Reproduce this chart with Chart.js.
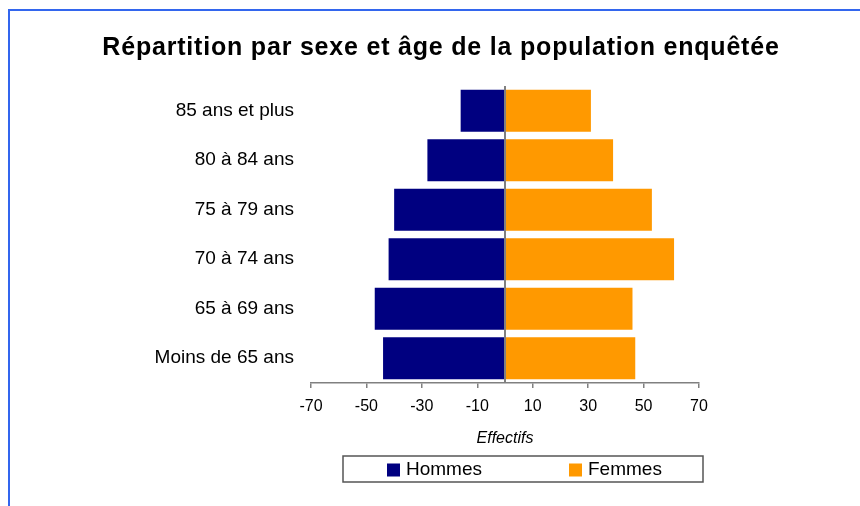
<!DOCTYPE html>
<html><head><meta charset="utf-8">
<script src="https://cdn.jsdelivr.net/npm/chart.js@4/dist/chart.umd.min.js"></script>
<style>html,body{margin:0;padding:0;background:#fff}#wrap{width:860px;height:506px;position:relative}</style>
</head><body><div id="wrap"><canvas id="c" width="860" height="506"></canvas></div>
<script>
const titleText = 'Répartition par sexe et âge de la population enquêtée';
const categories = ['85 ans et plus','80 à 84 ans','75 à 79 ans','70 à 74 ans','65 à 69 ans','Moins de 65 ans'];
const hommes = [-16, -28, -40, -42, -47, -44];
const femmes = [31, 39, 53, 61, 46, 47];
const xTicks = [-70, -50, -30, -10, 10, 30, 50, 70];
const xTitle = 'Effectifs';
const seriesNames = ['Hommes', 'Femmes'];

const FONT = "'Liberation Sans', Arial, Helvetica, sans-serif";
const NAVY = '#000080';
const ORANGE = '#FF9900';
const GRAY = '#808080';

const framePlugin = {
  id: 'frame',
  beforeDraw(chart) {
    const ctx = chart.ctx;
    ctx.save();
    ctx.fillStyle = '#ffffff';
    ctx.fillRect(0, 0, chart.width, chart.height);
    ctx.fillStyle = '#3366ee';
    ctx.fillRect(8, 9, chart.width - 8, 2);
    ctx.fillRect(8, 9, 2, chart.height - 9);
    ctx.restore();
  }
};

const titlePlugin = {
  id: 'wideTitle',
  afterDraw(chart) {
    const ctx = chart.ctx;
    ctx.save();
    ctx.font = 'bold 25px ' + FONT;
    if ('letterSpacing' in ctx) ctx.letterSpacing = '0.8px';
    ctx.fillStyle = '#000000';
    ctx.textAlign = 'center';
    ctx.textBaseline = 'middle';
    ctx.fillText(titleText, 441, 48);
    ctx.restore();
  }
};

const zeroLinePlugin = {
  id: 'zeroLine',
  afterDatasetsDraw(chart) {
    const ctx = chart.ctx, x = chart.scales.x.getPixelForValue(0), a = chart.chartArea;
    ctx.save();
    ctx.strokeStyle = GRAY;
    ctx.lineWidth = 2;
    ctx.beginPath();
    ctx.moveTo(x, a.top);
    ctx.lineTo(x, a.bottom);
    ctx.stroke();
    ctx.restore();
  }
};

const legendPlugin = {
  id: 'boxLegend',
  afterDraw(chart) {
    const ctx = chart.ctx;
    const box = {left: 343, top: 456, width: 360, height: 26};
    const itemX = [387, 569];
    ctx.save();
    ctx.strokeStyle = '#555555';
    ctx.lineWidth = 1.5;
    ctx.strokeRect(box.left, box.top, box.width, box.height);
    const cy = box.top + box.height / 2;
    ctx.font = '19px ' + FONT;
    ctx.textBaseline = 'middle';
    ctx.textAlign = 'left';
    chart.data.datasets.forEach((ds, i) => {
      ctx.fillStyle = ds.backgroundColor;
      ctx.fillRect(itemX[i], cy - 5.5, 13, 13);
      ctx.fillStyle = '#000000';
      ctx.fillText(ds.label, itemX[i] + 19, cy + 1);
    });
    ctx.restore();
  }
};

new Chart(document.getElementById('c'), {
  type: 'bar',
  data: {
    labels: categories,
    datasets: [
      {label: seriesNames[0], data: hommes, backgroundColor: NAVY, borderWidth: 0},
      {label: seriesNames[1], data: femmes, backgroundColor: ORANGE, borderWidth: 0}
    ]
  },
  options: {
    indexAxis: 'y',
    responsive: false,
    animation: false,
    devicePixelRatio: 1,
    layout: {padding: {left: 0, right: 161, top: 86, bottom: 58}},
    datasets: {bar: {categoryPercentage: 0.85, barPercentage: 1}},
    plugins: {
      legend: {display: false},
      title: {display: false},
      tooltip: {callbacks: {label: c => c.dataset.label + ': ' + Math.abs(c.raw)}}
    },
    scales: {
      x: {
        type: 'linear',
        min: -70,
        max: 70,
        stacked: true,
        afterBuildTicks: axis => { axis.ticks = xTicks.map(v => ({value: v})); },
        afterFit: axis => { axis.height = 65; },
        grid: {display: true, drawOnChartArea: false, drawTicks: true, tickLength: 5, color: GRAY, lineWidth: 1.5},
        border: {display: true, color: GRAY, width: 1.5},
        ticks: {color: '#000000', font: {family: FONT, size: 16}, padding: 9, maxRotation: 0, autoSkip: false},
        title: {display: true, text: xTitle, color: '#000000', font: {family: FONT, size: 16, style: 'italic'}, padding: {top: 4, bottom: 0}}
      },
      y: {
        stacked: true,
        afterFit: axis => { axis.width = 311; },
        grid: {display: false, drawTicks: false},
        border: {display: false},
        ticks: {color: '#000000', font: {family: FONT, size: 19}, padding: 17, autoSkip: false}
      }
    }
  },
  plugins: [framePlugin, zeroLinePlugin, legendPlugin, titlePlugin]
});
</script>
</body></html>
